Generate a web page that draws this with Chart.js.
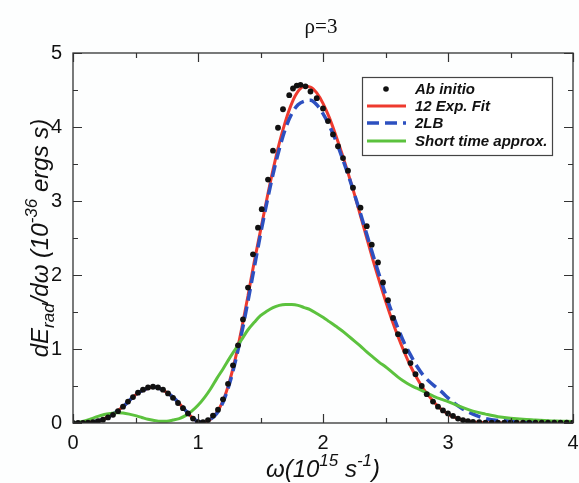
<!DOCTYPE html>
<html>
<head>
<meta charset="utf-8">
<script src="https://cdn.jsdelivr.net/npm/chart.js@4.4.1/dist/chart.umd.min.js"></script>
<style>
html,body{margin:0;padding:0;background:#fdfefe;}
#wrap{width:579px;height:483px;position:relative;}
</style>
</head>
<body>
<div id="wrap"><canvas id="c" width="579" height="483"></canvas></div>
<script>
// ---- data ----
const chartTitle = 'ρ=3';
const seriesNames = ['Ab initio', '12 Exp. Fit', '2LB', 'Short time approx.'];

const abOmega = [0.00,0.04,0.08,0.12,0.16,0.20,0.24,0.28,0.32,0.36,0.40,0.44,0.48,0.52,0.56,0.60,0.64,0.68,0.72,0.76,0.80,0.84,0.88,0.92,0.96,1.00,1.04,1.08,1.12,1.16,1.20,1.24,1.28,1.32,1.36,1.40,1.44,1.48,1.51,1.56,1.60,1.64,1.68,1.73,1.76,1.79,1.82,1.86,1.90,1.95,2.00,2.04,2.08,2.12,2.16,2.20,2.24,2.30,2.35,2.39,2.44,2.48,2.52,2.56,2.60,2.66,2.70,2.74,2.79,2.83,2.88,2.92,2.96,3.00,3.04,3.08,3.12,3.16,3.20,3.25,3.30,3.35,3.40,3.45,3.50,3.55,3.60,3.65,3.70,3.75,3.80,3.85,3.90,3.95,4.00];
const abValues = [0.00,0.00,0.00,0.005,0.01,0.025,0.045,0.075,0.11,0.16,0.22,0.29,0.35,0.41,0.45,0.48,0.49,0.48,0.45,0.40,0.34,0.27,0.20,0.13,0.06,0.01,0.01,0.04,0.10,0.18,0.32,0.53,0.78,1.05,1.40,1.83,2.28,2.64,2.89,3.29,3.68,3.99,4.24,4.43,4.52,4.56,4.57,4.55,4.48,4.39,4.25,4.08,3.90,3.74,3.58,3.41,3.18,2.91,2.66,2.41,2.17,1.90,1.66,1.42,1.20,0.97,0.81,0.66,0.50,0.39,0.29,0.22,0.17,0.13,0.095,0.06,0.04,0.025,0.015,0.01,0.005,0.005,0.005,0.005,0.005,0.005,0.005,0.005,0.005,0.005,0.005,0.005,0.005,0.005,0.005];

const fitOmega = [0.00,0.10,0.20,0.30,0.40,0.50,0.60,0.65,0.70,0.80,0.90,0.95,1.00,1.05,1.10,1.15,1.20,1.25,1.30,1.35,1.40,1.45,1.50,1.55,1.60,1.65,1.70,1.75,1.80,1.85,1.90,1.95,2.00,2.05,2.10,2.15,2.20,2.25,2.30,2.35,2.40,2.45,2.50,2.55,2.60,2.65,2.70,2.75,2.80,2.85,2.90,2.95,3.00,3.05,3.10,3.15,3.20,3.30,3.50,4.00];
const fitValues = [0.00,0.005,0.03,0.10,0.22,0.38,0.47,0.485,0.46,0.35,0.17,0.08,0.02,0.01,0.05,0.14,0.30,0.55,0.88,1.28,1.72,2.18,2.60,3.02,3.42,3.78,4.08,4.32,4.48,4.55,4.54,4.46,4.32,4.13,3.90,3.65,3.38,3.10,2.80,2.50,2.20,1.92,1.65,1.40,1.17,0.96,0.77,0.61,0.47,0.36,0.26,0.18,0.12,0.08,0.05,0.03,0.015,0.005,0.00,0.00];

const lbOmega = [0.00,0.10,0.20,0.30,0.40,0.50,0.60,0.65,0.70,0.80,0.90,0.95,1.00,1.05,1.10,1.15,1.20,1.25,1.30,1.35,1.40,1.45,1.50,1.55,1.60,1.65,1.70,1.75,1.80,1.85,1.90,1.95,2.00,2.05,2.10,2.15,2.20,2.25,2.30,2.35,2.40,2.45,2.50,2.55,2.60,2.65,2.70,2.75,2.80,2.85,2.90,2.95,3.00,3.05,3.10,3.15,3.20,3.25,3.30,3.40,3.50,3.70,4.00];
const lbValues = [0.00,0.005,0.03,0.10,0.22,0.38,0.47,0.485,0.46,0.35,0.17,0.08,0.02,0.01,0.05,0.13,0.28,0.52,0.84,1.22,1.65,2.10,2.55,2.97,3.36,3.70,3.98,4.18,4.30,4.35,4.36,4.30,4.18,4.02,3.83,3.60,3.36,3.10,2.83,2.55,2.27,2.00,1.74,1.50,1.28,1.08,0.92,0.77,0.65,0.56,0.49,0.42,0.34,0.27,0.21,0.16,0.12,0.085,0.06,0.035,0.025,0.015,0.01];

const stOmega = [0.00,0.05,0.10,0.15,0.20,0.25,0.30,0.35,0.40,0.45,0.50,0.55,0.60,0.65,0.70,0.75,0.80,0.85,0.90,0.95,1.00,1.05,1.10,1.15,1.20,1.25,1.30,1.35,1.40,1.45,1.50,1.55,1.60,1.65,1.70,1.75,1.80,1.85,1.90,1.95,2.00,2.05,2.10,2.15,2.20,2.25,2.30,2.35,2.40,2.45,2.50,2.55,2.60,2.65,2.70,2.75,2.80,2.85,2.90,2.95,3.00,3.10,3.20,3.30,3.40,3.50,3.60,3.70,3.80,3.90,4.00];
const stValues = [0.00,0.01,0.03,0.06,0.09,0.115,0.13,0.14,0.135,0.12,0.10,0.075,0.05,0.035,0.025,0.025,0.04,0.06,0.10,0.16,0.24,0.34,0.46,0.60,0.73,0.87,1.00,1.13,1.26,1.36,1.45,1.51,1.56,1.59,1.60,1.60,1.59,1.56,1.53,1.48,1.43,1.37,1.31,1.25,1.18,1.11,1.04,0.96,0.89,0.82,0.76,0.69,0.62,0.56,0.51,0.47,0.43,0.39,0.35,0.32,0.29,0.22,0.16,0.12,0.085,0.065,0.05,0.04,0.03,0.025,0.02];

const xTickLabels = ['0','1','2','3','4'];
const yTickLabels = ['0','1','2','3','4','5'];

// ---- styles ----
const RED = '#ee3a2e', BLUE = '#2d50c0', GREEN = '#5cc23e', DOT = '#111111';
const SANS = '"Liberation Sans", Arial, Helvetica, sans-serif';
const SERIF = '"Liberation Serif", "Times New Roman", serif';

function pts(xs, ys){ return xs.map((x,i)=>({x:x, y:ys[i]})); }

// inward ticks + full frame
const framePlugin = {
  id: 'frame',
  afterDatasetsDraw(chart){
    const {ctx, chartArea:a, scales:{x, y}} = chart;
    ctx.save();
    ctx.strokeStyle = '#333';
    ctx.lineWidth = 1.2;
    ctx.beginPath();
    x.ticks.forEach(t=>{
      const px = Math.round(x.getPixelForValue(t.value)) + 0.5;
      const len = Number.isInteger(t.value) ? 9 : 5;
      ctx.moveTo(px, a.bottom); ctx.lineTo(px, a.bottom - len);
      ctx.moveTo(px, a.top); ctx.lineTo(px, a.top + len);
    });
    y.ticks.forEach(t=>{
      const py = Math.round(y.getPixelForValue(t.value)) + 0.5;
      const len = Number.isInteger(t.value) ? 9 : 5;
      ctx.moveTo(a.left, py); ctx.lineTo(a.left + len, py);
      ctx.moveTo(a.right, py); ctx.lineTo(a.right - len, py);
    });
    ctx.stroke();
    ctx.lineWidth = 1.3;
    ctx.strokeRect(a.left, a.top, a.right - a.left, a.bottom - a.top);
    ctx.restore();
  }
};

// legend box inside the plot
const legendPlugin = {
  id: 'boxLegend',
  afterDatasetsDraw(chart){
    const {ctx} = chart;
    const bx = 362, by = 77, bw = 190, bh = 78;
    ctx.save();
    ctx.fillStyle = '#ffffff';
    ctx.fillRect(bx, by, bw, bh);
    ctx.strokeStyle = '#444';
    ctx.lineWidth = 1.2;
    ctx.strokeRect(bx + 0.5, by + 0.5, bw, bh);
    const rows = [89, 106, 123, 141];
    ctx.font = 'italic bold 15px ' + SANS;
    ctx.textBaseline = 'middle';
    [0, 1, 2, 3].forEach((i)=>{
      const ds = chart.data.datasets.find(d => d.label === seriesNames[i]);
      const ry = rows[i];
      if (ds.showLine === false) {
        ctx.fillStyle = ds.pointBackgroundColor;
        ctx.beginPath(); ctx.arc(386, ry, 2.8, 0, Math.PI*2); ctx.fill();
      } else {
        ctx.strokeStyle = ds.borderColor;
        ctx.lineWidth = ds.borderWidth;
        ctx.setLineDash(ds.borderDash || []);
        ctx.beginPath(); ctx.moveTo(367, ry); ctx.lineTo(406, ry); ctx.stroke();
        ctx.setLineDash([]);
      }
      ctx.fillStyle = '#111';
      ctx.fillText(ds.label, 415, ry + 1);
    });
    ctx.restore();
  }
};

// title and rich axis titles
function drawRich(ctx, segs, x, y, align){
  let total = 0;
  segs.forEach(s=>{ ctx.font = s.font; s.w = ctx.measureText(s.t).width; total += s.w; });
  let cx = align === 'center' ? x - total/2 : x;
  segs.forEach(s=>{ ctx.font = s.font; ctx.fillText(s.t, cx, y + (s.dy||0)); cx += s.w; });
}
const textPlugin = {
  id: 'texts',
  afterDraw(chart){
    const {ctx, chartArea:a} = chart;
    ctx.save();
    ctx.fillStyle = '#111';
    ctx.textBaseline = 'alphabetic';
    ctx.textAlign = 'left';
    // title
    ctx.font = '21px ' + SERIF;
    const tw = ctx.measureText(chartTitle).width;
    ctx.fillText(chartTitle, (a.left + a.right)/2 - tw/2 - 2, 33);
    // x title
    const big = 'italic 24px ' + SANS, small = 'italic 17px ' + SANS;
    drawRich(ctx, [
      {t:'ω(10', font:big},
      {t:'15', font:small, dy:-11},
      {t:' s', font:big},
      {t:'-1', font:small, dy:-11},
      {t:')', font:big}
    ], (a.left + a.right)/2, 477, 'center');
    // y title (rotated)
    ctx.translate(48, (a.top + a.bottom)/2);
    ctx.rotate(-Math.PI/2);
    drawRich(ctx, [
      {t:'dE', font:big},
      {t:'rad', font:small, dy:6},
      {t:'/dω (10', font:big},
      {t:'-36', font:small, dy:-11},
      {t:' ergs s)', font:big}
    ], 0, 0, 'center');
    ctx.restore();
  }
};

const bgPlugin = {
  id: 'bg',
  beforeDraw(chart){
    const {ctx, width, height} = chart;
    ctx.save(); ctx.fillStyle = '#fdfefe'; ctx.fillRect(0,0,width,height); ctx.restore();
  }
};

new Chart(document.getElementById('c'), {
  type: 'scatter',
  data: {
    datasets: [
      { label: seriesNames[0], data: pts(abOmega, abValues), showLine: false,
        pointRadius: 2.9, pointBackgroundColor: DOT, pointBorderWidth: 0, borderColor: DOT, order: 0 },
      { label: seriesNames[3], data: pts(stOmega, stValues), showLine: true, borderColor: GREEN,
        borderWidth: 3, pointRadius: 0, cubicInterpolationMode: 'monotone', order: 1 },
      { label: seriesNames[2], data: pts(lbOmega, lbValues), showLine: true, borderColor: BLUE,
        borderWidth: 3.5, borderDash: [12, 6], pointRadius: 0, cubicInterpolationMode: 'monotone', order: 2 },
      { label: seriesNames[1], data: pts(fitOmega, fitValues), showLine: true, borderColor: RED,
        borderWidth: 3, pointRadius: 0, cubicInterpolationMode: 'monotone', order: 3 }
    ]
  },
  options: {
    responsive: false,
    animation: false,
    events: [],
    layout: { padding: { top: 53, right: 6, left: 0, bottom: 0 } },
    plugins: { legend: { display: false }, tooltip: { enabled: false }, title: { display: false } },
    scales: {
      x: {
        type: 'linear', min: 0, max: 4,
        grid: { display: false }, border: { display: false },
        ticks: { stepSize: 0.5, autoSkip: false, maxRotation: 0, padding: 0,
          color: '#111', font: { family: SANS, size: 20 },
          callback: v => Number.isInteger(v) ? xTickLabels[v] : '' },
        afterFit(s){ s.height = 60; }
      },
      y: {
        type: 'linear', min: 0, max: 5,
        grid: { display: false }, border: { display: false },
        ticks: { stepSize: 0.5, autoSkip: false, padding: 3,
          color: '#111', font: { family: SANS, size: 20 },
          callback: v => Number.isInteger(v) ? yTickLabels[v] : '' },
        afterFit(s){ s.width = 73; }
      }
    }
  },
  plugins: [bgPlugin, framePlugin, legendPlugin, textPlugin]
});
</script>
</body>
</html>
